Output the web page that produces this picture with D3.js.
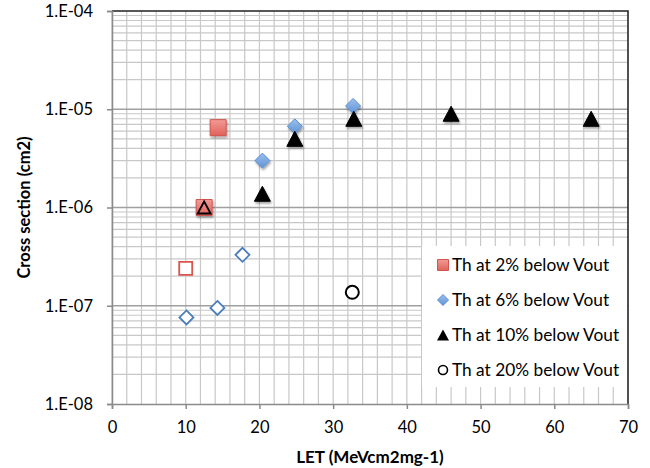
<!DOCTYPE html>
<html>
<head>
<meta charset="utf-8">
<script src="https://cdn.jsdelivr.net/npm/d3@7"></script>
<style>
  body { margin: 0; background: #fff; }
  text { font-family: Lato, "Open Sans", sans-serif; fill: #000; }
</style>
</head>
<body>
<div id="chart"></div>
<script>
// series data (LET, cross section)
let th2X = [14.4, 12.5]
let th2Y = [6.5e-6, 1.0e-6]
let th6X = [20.4, 24.8, 32.7]
let th6Y = [3.0e-6, 6.7e-6, 1.08e-5]
let th10X = [20.4, 24.8, 32.8, 46, 65]
let th10Y = [1.38e-6, 5.0e-6, 8.0e-6, 9.0e-6, 8.0e-6]
let th20X = [32.6]
let th20Y = [1.37e-7]
// open markers (not in legend)
let openSquareX = [10.0]
let openSquareY = [2.4e-7]
let openDiamondX = [10.1, 14.3, 17.7]
let openDiamondY = [7.6e-8, 9.5e-8, 3.3e-7]
let openTriangleX = [12.5]
let openTriangleY = [1.0e-6]

let legendLabels = ["Th at 2% below Vout", "Th at 6% below Vout", "Th at 10% below Vout", "Th at 20% below Vout"]
let xTicks = [0, 10, 20, 30, 40, 50, 60, 70]
let yTicks = [1e-8, 1e-7, 1e-6, 1e-5, 1e-4]

let width = 650, height = 468
let plotLeft = 112, plotRight = 628, plotTop = 11, plotBottom = 404

let svg = d3.select("#chart").append("svg")
    .attr("width", width)
    .attr("height", height)

let defs = svg.append("defs")
let red = defs.append("linearGradient").attr("id", "redFill").attr("x1", 0).attr("y1", 0).attr("x2", 0).attr("y2", 1)
red.append("stop").attr("offset", "0%").attr("stop-color", "#f39a95")
red.append("stop").attr("offset", "100%").attr("stop-color", "#e0625b")
let blue = defs.append("linearGradient").attr("id", "blueFill").attr("x1", 0).attr("y1", 0).attr("x2", 0).attr("y2", 1)
blue.append("stop").attr("offset", "0%").attr("stop-color", "#9cc0ec")
blue.append("stop").attr("offset", "100%").attr("stop-color", "#5f93d6")
let shadow = defs.append("filter").attr("id", "shadow").attr("x", "-50%").attr("y", "-50%").attr("width", "200%").attr("height", "200%")
shadow.append("feDropShadow").attr("dx", 1).attr("dy", 2).attr("stdDeviation", 1.2)
    .attr("flood-color", "#000").attr("flood-opacity", 0.35)

let x = d3.scaleLinear().domain([0, 70]).range([plotLeft, plotRight])
let y = d3.scaleLog().domain([1e-8, 1e-4]).range([plotBottom, plotTop])

//gridlines
let minorX = d3.range(0, 71, 2)
svg.append("g").selectAll("line").data(minorX).join("line")
    .attr("x1", d => x(d)).attr("x2", d => x(d))
    .attr("y1", plotTop).attr("y2", plotBottom)
    .attr("stroke", "#c8c8c8").attr("stroke-width", 1.2)

let minorY = []
for (let e = -8; e < -4; e++) {
    for (let m = 2; m <= 9; m++) minorY.push(m * Math.pow(10, e))
}
svg.append("g").selectAll("line").data(minorY).join("line")
    .attr("x1", plotLeft).attr("x2", plotRight)
    .attr("y1", d => y(d)).attr("y2", d => y(d))
    .attr("stroke", "#c8c8c8").attr("stroke-width", 1.2)
svg.append("g").selectAll("line").data(yTicks.slice(1, 4)).join("line")
    .attr("x1", plotLeft).attr("x2", plotRight)
    .attr("y1", d => y(d)).attr("y2", d => y(d))
    .attr("stroke", "#a0a0a0").attr("stroke-width", 1.5)

//plot border top/right
svg.append("path")
    .attr("d", `M${plotLeft},${plotTop}H${plotRight}V${plotBottom}`)
    .attr("fill", "none").attr("stroke", "#222").attr("stroke-width", 1.5)

//axes
let xAxis = svg.append("g")
    .attr("transform", `translate(0,${plotBottom})`)
    .call(d3.axisBottom(x).tickValues(xTicks).tickSize(5).tickPadding(12).tickFormat(d3.format("d")))
let yAxis = svg.append("g")
    .attr("transform", `translate(${plotLeft},0)`)
    .call(d3.axisLeft(y).tickValues(yTicks).tickSize(5).tickPadding(14)
        .tickFormat(d => "1.E-0" + Math.round(-Math.log10(d))))
for (let ax of [xAxis, yAxis]) {
    ax.select(".domain").attr("stroke", "#8a8a8a").attr("stroke-width", 1.5)
    ax.selectAll(".tick line").attr("stroke", "#8a8a8a").attr("stroke-width", 1.5)
    ax.selectAll("text").style("font-family", "Lato, sans-serif").style("font-size", "16.5px").attr("fill", "#000")
}

//axis titles
svg.append("text")
    .attr("x", (plotLeft + plotRight) / 2).attr("y", 463)
    .attr("text-anchor", "middle")
    .style("font-size", "17px").style("font-weight", "bold")
    .text("LET (MeVcm2mg-1)")
svg.append("text")
    .attr("transform", `translate(30,${(plotTop + plotBottom) / 2}) rotate(-90)`)
    .attr("text-anchor", "middle")
    .style("font-size", "16.5px").style("font-weight", "bold")
    .text("Cross section (cm2)")

//marker shapes
function squarePath(s) { return `M${-s/2},${-s/2}h${s}v${s}h${-s}Z` }
function diamondPath(s) { return `M0,${-s/2}L${s/2},0L0,${s/2}L${-s/2},0Z` }
function trianglePath(w, h) { return `M0,${-h/2}L${w/2},${h/2}L${-w/2},${h/2}Z` }

function pts(xs, ys) { return xs.map((v, i) => [v, ys[i]]) }

let marks = svg.append("g")

function drawSeries(data, path, fill, stroke, sw, filtered) {
    marks.append("g").selectAll("path").data(data).join("path")
        .attr("transform", d => `translate(${x(d[0])},${y(d[1])})`)
        .attr("d", path)
        .attr("fill", fill).attr("stroke", stroke).attr("stroke-width", sw)
        .attr("filter", filtered ? "url(#shadow)" : null)
}

drawSeries(pts(openSquareX, openSquareY), squarePath(13), "#fff", "#d9534f", 1.8, false)
drawSeries(pts(openDiamondX, openDiamondY), diamondPath(14), "#fff", "#4a7ebb", 1.8, false)
drawSeries(pts(th2X, th2Y), squarePath(16), "url(#redFill)", "#d0554f", 1, true)
drawSeries(pts(th6X, th6Y), diamondPath(15), "url(#blueFill)", "#5b8fd2", 1, true)
drawSeries(pts(th10X, th10Y), trianglePath(16, 15), "#000", "#000", 1, true)
drawSeries(pts(openTriangleX, openTriangleY), trianglePath(13, 12), "none", "#000", 1.8, false)
marks.append("g").selectAll("circle").data(pts(th20X, th20Y)).join("circle")
    .attr("cx", d => x(d[0])).attr("cy", d => y(d[1])).attr("r", 6.5)
    .attr("fill", "#fff").attr("stroke", "#000").attr("stroke-width", 2)

//legend
let legend = svg.append("g")
legend.append("rect")
    .attr("x", 422).attr("y", 246).attr("width", plotRight - 422 - 1).attr("height", 141)
    .attr("fill", "#fff")
let rows = legend.selectAll("g.row").data(legendLabels).join("g")
    .attr("transform", (d, i) => `translate(443,${265 + i * 35})`)
rows.append("text")
    .attr("x", 9).attr("dy", "0.35em")
    .style("font-size", "17.3px")
    .text(d => d)
rows.filter((d, i) => i === 0).append("path").attr("d", squarePath(11))
    .attr("fill", "url(#redFill)").attr("stroke", "#d0554f")
rows.filter((d, i) => i === 1).append("path").attr("d", diamondPath(11))
    .attr("fill", "url(#blueFill)").attr("stroke", "#5b8fd2")
rows.filter((d, i) => i === 2).append("path").attr("d", trianglePath(12, 11))
    .attr("fill", "#000")
rows.filter((d, i) => i === 3).append("circle").attr("r", 4.5)
    .attr("fill", "#fff").attr("stroke", "#000").attr("stroke-width", 1.6)
</script>
</body>
</html>
